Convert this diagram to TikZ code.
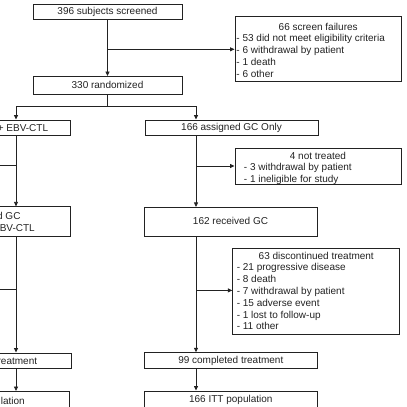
\documentclass[tikz,border=0pt]{standalone}
\usepackage{fontspec}
\setmainfont{Liberation Sans}
\usetikzlibrary{arrows.meta}
\definecolor{ink}{HTML}{222222}
\newcommand{\exlist}[6]{\parbox[c][#3][t]{#2}{\centering\rule{0pt}{#1}#4\par\raggedright\leftskip=#5\relax #6}}
\begin{document}
\begin{tikzpicture}[x=1pt,y=-1pt,
  box/.style={draw=ink, line width=0.9pt, inner sep=0pt, text=ink, font=\fontsize{10}{11.8}\selectfont, text height=7.2pt, text depth=2.1pt},
  exbox/.style={draw=ink, line width=0.9pt, inner sep=0pt, text=ink, font=\fontsize{10}{11.8}\selectfont},
  frag/.style={inner sep=0pt, text=ink, font=\fontsize{10}{11.8}\selectfont, text height=7.2pt, text depth=2.1pt},
  arr/.style={draw=ink, line width=0.8pt, -{Triangle[length=4.5pt,width=4pt]}},
  ln/.style={draw=ink, line width=0.8pt}]
\useasboundingbox (0,0) rectangle (407,407);
\clip (0,0) rectangle (407,407);

% top
\node[box, minimum width=149pt, minimum height=14.6pt] (b1) at (107.5,12) {396 subjects screened};
\node[exbox, anchor=north west] (sf) at (234.5,16) {\exlist{13.6pt}{166.5pt}{65pt}{66 screen failures}{1.5pt}{- 53 did not meet eligibility criteria\\- 6 withdrawal by patient\\- 1 death\\- 6 other}};
\node[box, minimum width=149pt, minimum height=18pt] (b2) at (107.5,85.5) {330 randomized};

% left column (cut off)
\node[box, minimum width=130.7pt, minimum height=15pt, anchor=east] (L1) at (70.7,127.5) {};
\node[frag, anchor=east] (L1t) at (48.3,128.5) {+ EBV-CTL};
\node[box, minimum width=130.7pt, minimum height=29.3pt, anchor=east] (L2) at (70.7,221.5) {};
\node[frag, anchor=east] (L2a) at (20.7,217) {d GC};
\node[frag, anchor=east] (L2b) at (35,229.3) {BV-CTL};
\node[box, minimum width=132pt, minimum height=15.5pt, anchor=east] (L3) at (72.3,360.7) {};
\node[frag, anchor=east] (L3t) at (37.3,361.7) {reatment};
\node[box, minimum width=130pt, minimum height=40pt, anchor=north east] (L4) at (70.3,391) {};
\node[frag, anchor=east] (L4t) at (25,401.7) {lation};

% right column
\node[box, minimum width=173pt, minimum height=15pt] (R1) at (231.5,127.5) {166 assigned GC Only};
\node[exbox, anchor=north west] (nt) at (234.5,147.5) {\exlist{11.1pt}{166pt}{36pt}{4 not treated}{9pt}{- 3 withdrawal by patient\\- 1 ineligible for study}};
\node[box, minimum width=173pt, minimum height=29.2pt] (R2) at (230.5,222) {162 received GC};
\node[exbox, anchor=north west] (dc) at (232.3,248) {\exlist{10.6pt}{167pt}{86pt}{63 discontinued treatment}{4pt}{- 21 progressive disease\\- 8 death\\- 7 withdrawal by patient\\- 15 adverse event\\- 1 lost to follow-up\\- 11 other}};
\node[box, minimum width=173pt, minimum height=15.6pt] (R3) at (230.8,360.5) {99 completed treatment};
\node[box, minimum width=173pt, minimum height=40pt, anchor=north west] (R4) at (144.3,390.5) {};
\node[frag] (R4t) at (230.8,400.3) {166 ITT population};

% connectors
\coordinate (cL) at (16,0);
\coordinate (cR) at (196,0);
\draw[arr] (b1.south) -- (b1.south |- b2.north);
\coordinate (j1) at (107.5,49.3);
\draw[arr] (j1) -- (j1 -| sf.west);
\coordinate (sp) at (107.5,106);
\draw[ln] (b2.south) -- (sp);
\draw[arr] (sp) -| (cL |- L1.north);
\draw[arr] (sp) -| (cR |- R1.north);

\draw[arr] (cL |- L1.south) -- (cL |- L2.north);
\draw[arr] (cL |- L2.south) -- (cL |- L3.north);
\draw[arr] (cL |- L3.south) -- (cL |- L4.north);
\coordinate (jL1) at (16,165.7);
\coordinate (eL1) at (-3,165.7);
\draw[ln] (jL1) -- (eL1);
\coordinate (jL2) at (16,289.3);
\coordinate (eL2) at (-3,289.3);
\draw[ln] (jL2) -- (eL2);

\draw[arr] (cR |- R1.south) -- (cR |- R2.north);
\draw[arr] (cR |- R2.south) -- (cR |- R3.north);
\draw[arr] (cR |- R3.south) -- (cR |- R4.north);
\coordinate (jR1) at (196,166);
\draw[arr] (jR1) -- (jR1 -| nt.west);
\coordinate (jR2) at (196,290.4);
\draw[arr] (jR2) -- (jR2 -| dc.west);
\end{tikzpicture}
\end{document}
